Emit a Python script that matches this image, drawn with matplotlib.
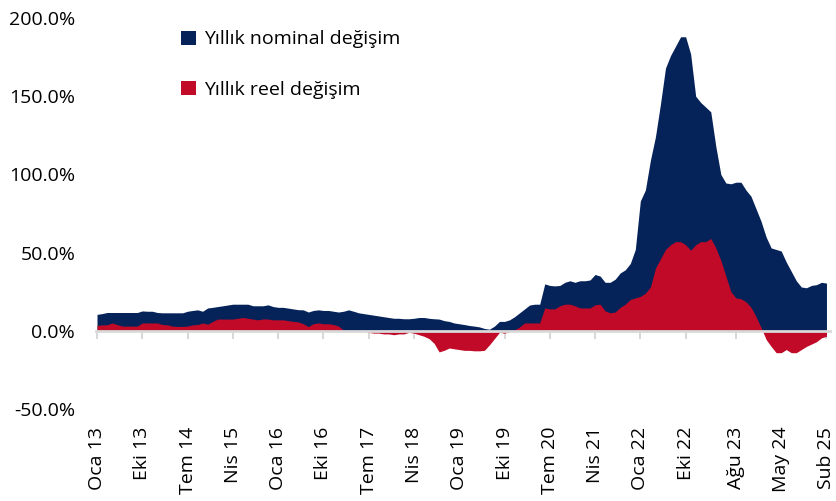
import matplotlib
matplotlib.use("Agg")
import matplotlib.pyplot as plt
from matplotlib.patches import Patch
import numpy as np

plt.rcParams['font.family'] = ['Open Sans', 'DejaVu Sans']

# Monthly data Oca 13 .. Sub 25 (146 months), yearly % change
nominal = [
    10.5, 11, 11.7, 11.7, 11.7, 11.7, 11.7, 11.7, 11.7, 12.7,
    12.5, 12.5, 11.7, 11.5, 11.5, 11.5, 11.5, 11.5, 12.5, 13,
    13.4, 12.5, 14.6, 15, 15.5, 16, 16.5, 17, 17, 17,
    17, 16, 16, 16, 16.6, 15.5, 15, 15, 14.5, 14,
    13.5, 13.4, 12, 13, 13.4, 13, 13, 12.5, 12, 12.5,
    13.4, 12.5, 11.5, 11, 10.5, 10, 9.5, 9, 8.5, 8,
    8, 7.7, 7.7, 8, 8.5, 8.5, 8, 7.7, 7.5, 6.5,
    6, 5, 4.5, 4, 3.4, 3, 2.5, 1.5, 1, 3,
    6, 6, 7, 9, 11.5, 14, 16.5, 17, 17, 30,
    29, 28.7, 29, 31, 32, 31, 32, 32, 32.5, 36,
    35, 31, 31, 33, 37, 39, 43, 52, 83, 90,
    109, 124, 145, 168, 176, 182, 188, 188, 177, 150,
    146, 143, 140, 118, 100, 94.5, 94, 95, 95, 90,
    86, 78, 70, 60, 53, 52, 51, 44, 38, 32,
    28, 27.5, 29, 29.5, 31, 30.5,
]

real = [
    3.4, 3.8, 3.8, 5, 4, 3, 3, 3, 3, 5,
    5, 5, 5, 4, 3.8, 3, 2.8, 2.8, 3, 3.8,
    4, 5, 4.2, 6, 7.5, 7.5, 7.5, 7.5, 8, 8.5,
    8, 7.5, 7, 7.6, 7.5, 7, 7, 7, 6.5, 6,
    5.7, 4.5, 2.7, 4.5, 5, 4.5, 4.5, 4, 3, 0.3,
    0.1, 0, 0, 0, -1, -1.5, -1.5, -2, -2, -2.5,
    -2, -2, -1, -1.5, -2.5, -3.5, -5, -8, -13.5, -12.5,
    -11, -11.5, -12, -12.5, -12.5, -12.8, -12.8, -12.5, -9, -5,
    -1, -1.5, -0.5, 0.5, 2.5, 5, 5, 5, 5, 14.6,
    14, 14, 16, 17, 17, 16, 14.6, 14.6, 14.6, 16.6,
    17, 12.7, 11.5, 12, 15, 17, 20, 21, 22, 24,
    28, 40, 46, 52, 55, 57, 57, 55, 51.5, 55,
    57, 57, 59, 53, 45, 35, 25, 21, 20.5, 18.5,
    15, 9, 2, -5.5, -10, -14, -14, -12, -14, -14,
    -12, -10, -8.5, -7, -4.5, -3.5,
]

tick_idx = [0, 9, 18, 27, 36, 45, 54, 63, 72, 81, 90, 99, 108, 117, 127, 136, 145]
tick_labels = ["Oca 13", "Eki 13", "Tem 14", "Nis 15", "Oca 16", "Eki 16", "Tem 17",
               "Nis 18", "Oca 19", "Eki 19", "Tem 20", "Nis 21", "Oca 22", "Eki 22",
               "Ağu 23", "May 24", "Sub 25"]
yticks = [-50, 0, 50, 100, 150, 200]
labels = ["Yıllık nominal değişim", "Yıllık reel değişim"]

navy = "#062359"
red = "#C10A28"
grey = "#D9D9D9"

fig = plt.figure(figsize=(8.37, 5.01), dpi=100)
ax = fig.add_axes([96 / 837, 1 - 409 / 501, (830 - 96) / 837, (409 - 18) / 501])

x = np.arange(len(nominal))
ax.fill_between(x, 0, nominal, color=navy, linewidth=0, zorder=1)
ax.fill_between(x, 0, real, color=red, linewidth=0, zorder=2)

ax.set_xlim(-0.2, 145.7)
ax.set_ylim(-50, 200)

for s in ["top", "right", "left"]:
    ax.spines[s].set_visible(False)
ax.spines["bottom"].set_position(("data", 0))
ax.spines["bottom"].set_color(grey)
ax.spines["bottom"].set_linewidth(2)
ax.spines["bottom"].set_zorder(3)

ax.set_xticks(tick_idx)
ax.set_xticklabels(tick_labels, rotation=90, fontsize=14)
ax.tick_params(axis="x", direction="out", length=6, width=1.5, color=grey, pad=63)

ax.set_yticks(yticks)
ax.set_yticklabels([f"{v:.1f}%" for v in yticks], fontsize=14)
ax.tick_params(axis="y", length=0, pad=15)

handles = [Patch(facecolor=navy, edgecolor="none"), Patch(facecolor=red, edgecolor="none")]
fig.legend(handles, labels, loc="upper left", bbox_to_anchor=(164 / 837, 1 - 13 / 501),
           frameon=False, fontsize=14, handlelength=0.75, handleheight=0.75,
           handletextpad=0.4, labelspacing=1.65)

fig.savefig("out.png", dpi=100)
